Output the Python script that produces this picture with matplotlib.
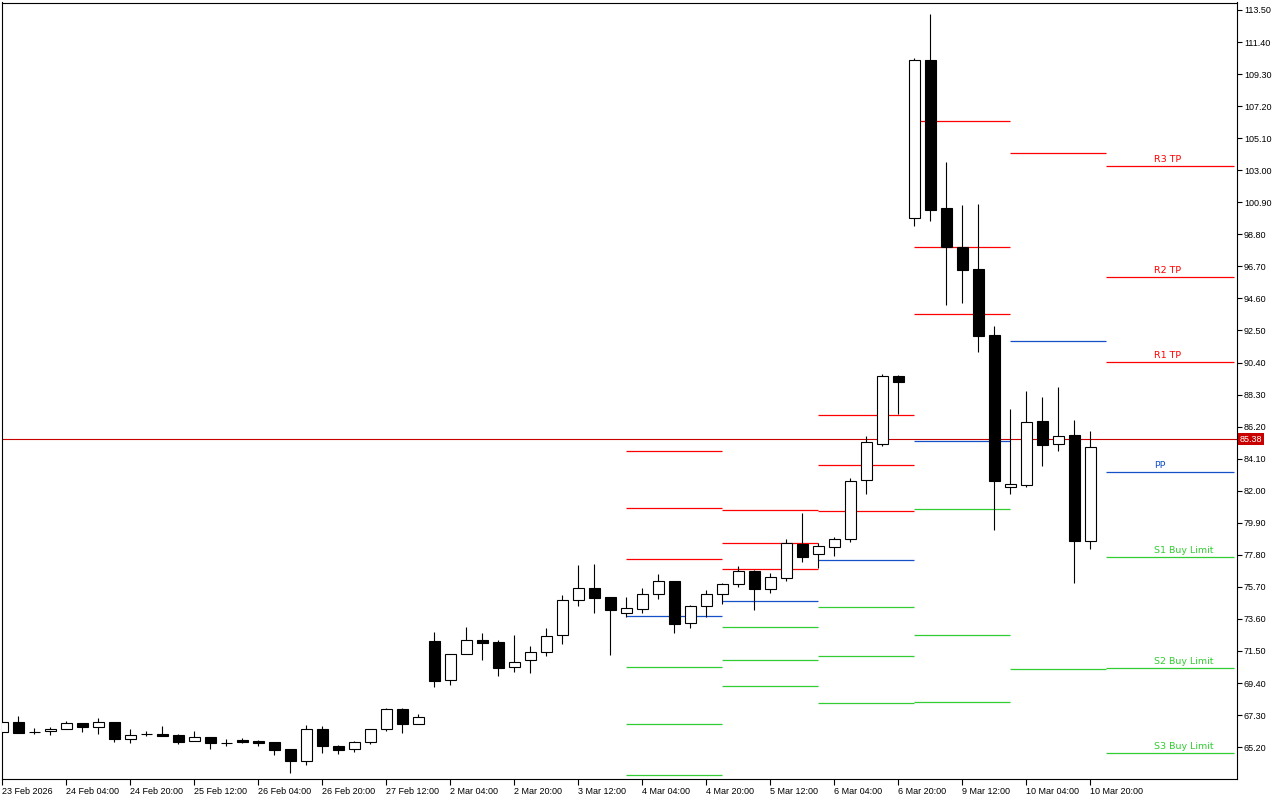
import matplotlib
matplotlib.use("Agg")
import matplotlib.pyplot as plt
import matplotlib.transforms as mtransforms
import numpy as np

# H4 bars, oldest first
opens = [66.17, 66.82, 66.17, 66.23, 66.36, 66.78, 66.50, 66.82, 65.75, 66.06,
         66.08, 65.97, 65.58, 65.86, 65.47, 65.66, 65.60, 65.53, 65.07, 64.31,
         66.38, 65.29, 65.05, 65.51, 66.36, 67.72, 66.69, 72.15, 69.57, 71.28,
         72.22, 72.09, 70.42, 70.88, 71.41, 72.52, 74.82, 75.60, 75.02, 73.97,
         74.27, 75.21, 76.08, 73.31, 74.46, 75.25, 75.90, 76.74, 75.58, 76.30,
         78.51, 77.83, 78.29, 78.81, 82.68, 85.08, 89.50, 99.85, 110.20, 100.51,
         97.95, 96.53, 92.20, 82.24, 82.39, 86.57, 85.04, 85.63, 78.72]
highs = [66.85, 67.24, 66.42, 66.49, 66.89, 66.80, 67.10, 66.82, 66.40, 66.25,
         66.60, 66.08, 66.23, 65.86, 65.73, 65.79, 65.64, 65.55, 65.07, 66.66,
         66.58, 65.34, 65.60, 66.36, 67.76, 67.76, 67.35, 72.74, 71.28, 73.07,
         72.67, 72.22, 72.54, 71.82, 73.00, 75.16, 77.13, 77.20, 75.02, 75.02,
         75.60, 76.54, 76.08, 74.51, 75.47, 75.93, 77.06, 76.80, 76.61, 78.83,
         80.54, 78.55, 78.96, 82.81, 85.56, 89.63, 89.58, 110.35, 113.24, 103.54,
         100.72, 100.79, 92.79, 87.35, 88.53, 88.14, 88.79, 86.61, 85.91]
lows = [66.15, 66.10, 66.09, 66.02, 66.36, 66.19, 66.08, 65.55, 65.49, 65.91,
        65.92, 65.42, 65.58, 65.07, 65.29, 65.47, 65.29, 64.68, 63.52, 64.02,
        64.83, 64.76, 64.90, 65.40, 66.25, 66.10, 66.69, 69.16, 69.29, 71.28,
        70.92, 69.88, 70.14, 70.07, 71.19, 71.97, 74.46, 74.00, 71.23, 73.74,
        74.00, 74.92, 72.69, 73.02, 73.74, 74.55, 75.69, 74.20, 75.32, 76.10,
        77.35, 76.95, 77.74, 78.66, 81.80, 84.95, 87.03, 99.37, 99.69, 94.19,
        94.28, 91.09, 79.42, 81.78, 82.22, 83.64, 84.62, 75.97, 78.20]
closes = [66.82, 66.14, 66.17, 66.38, 66.78, 66.50, 66.82, 65.75, 65.97, 66.06,
          65.94, 65.55, 65.86, 65.49, 65.47, 65.53, 65.47, 65.03, 64.31, 66.36,
          65.27, 65.03, 65.53, 66.36, 67.69, 66.69, 67.15, 69.55, 71.28, 72.22,
          72.04, 70.40, 70.75, 71.41, 72.46, 74.82, 75.60, 74.99, 74.20, 74.29,
          75.21, 76.06, 73.28, 74.42, 75.21, 75.87, 76.72, 75.58, 76.32, 78.55,
          77.63, 78.36, 78.81, 82.62, 85.17, 89.50, 89.14, 110.20, 100.41, 97.95,
          96.48, 92.16, 82.65, 82.44, 86.48, 85.01, 85.60, 78.72, 84.84]

xtick_labels = ["23 Feb 2026", "24 Feb 04:00", "24 Feb 20:00", "25 Feb 12:00",
                "26 Feb 04:00", "26 Feb 20:00", "27 Feb 12:00", "2 Mar 04:00",
                "2 Mar 20:00", "3 Mar 12:00", "4 Mar 04:00", "4 Mar 20:00",
                "5 Mar 12:00", "6 Mar 04:00", "6 Mar 20:00", "9 Mar 12:00",
                "10 Mar 04:00", "10 Mar 20:00"]
ytick_values = [65.20, 67.30, 69.40, 71.50, 73.60, 75.70, 77.80, 79.90, 82.00,
                84.10, 86.20, 88.30, 90.40, 92.50, 94.60, 96.70, 98.80, 100.90,
                103.00, 105.10, 107.20, 109.30, 111.40, 113.50]

# daily pivot blocks (bar index where each day starts / ends)
pivot_start = [39, 45, 51, 57, 63, 69]
pivot_end = [45, 51, 57, 63, 69, 77]
r3 = [84.63, 80.76, 86.99, 106.20, np.nan, 103.26]
r2 = [80.89, 78.60, 83.71, 97.94, np.nan, 95.98]
r1 = [77.55, 76.89, 80.69, 93.57, 104.10, 90.41]
pp = [73.81, 74.79, 77.48, 85.24, 91.78, 83.21]
s1 = [70.46, 73.09, 74.40, 80.82, 70.33, 77.63]
s2 = [66.73, 70.92, 71.19, 72.56, np.nan, 70.40]
s3 = [63.38, 69.22, 68.10, 68.17, np.nan, 64.79]
level_names = ["R3 TP", "R2 TP", "R1 TP", "PP", "S1 Buy Limit", "S2 Buy Limit", "S3 Buy Limit"]

last_price = 85.38

RED = "#ff0000"
BLUE = "#1450c8"
GREEN = "#32cd32"

fig = plt.figure(figsize=(12.8, 8), dpi=100)
ax = fig.add_axes([2 / 1280, 20.7 / 800, 1235 / 1280, 776.8 / 800])

o = np.array(opens)
h = np.array(highs)
l = np.array(lows)
c = np.array(closes)
x = np.arange(len(o))
up = c >= o

## candles: wicks first, bodies on top
ax.vlines(x, l, h, color="black", lw=0.8, zorder=3)
ax.bar(x, np.abs(c - o), bottom=np.minimum(o, c), width=0.66,
       color=np.where(up, "white", "black"), edgecolor="black", lw=0.8, zorder=4)

## pivot levels
levels = [r3, r2, r1, pp, s1, s2, s3]
colors = [RED, RED, RED, BLUE, GREEN, GREEN, GREEN]
for lv, col in zip(levels, colors):
    ax.hlines(lv, pivot_start, pivot_end, colors=col, lw=0.9, zorder=2)

# labels on the current (last) day
for lv, col, name in zip(levels, colors, level_names):
    ax.annotate(name, (pivot_start[-1] + 3, lv[-1]), xytext=(0, 1.5),
                textcoords="offset points", ha="left", va="bottom",
                color=col, fontsize=6.8, family="DejaVu Sans", zorder=5)

## bid line + price tag
ax.axhline(last_price, color="#c80000", lw=0.8, zorder=1)
trans = mtransforms.blended_transform_factory(ax.transAxes, ax.transData)
ax.text(1.0025, last_price, f"{last_price:.2f}", transform=trans, ha="left",
        va="center", color="white", fontsize=6.5, family="Liberation Sans",
        bbox=dict(boxstyle="square,pad=0.18", fc="#c80000", ec="none"), zorder=10,
        clip_on=False)

## axes
ax.set_xlim(-0.03, 77.16)
ax.set_ylim(63.09, 113.99)

ax.set_xticks(np.arange(len(xtick_labels)) * 4)
ax.set_xticklabels(xtick_labels, fontsize=6.5, family="Liberation Sans")
for lbl in ax.get_xticklabels():
    lbl.set_ha("left")
ax.tick_params(axis="x", direction="out", length=4, width=0.8, pad=1.5)

ax.yaxis.tick_right()
ax.set_yticks(ytick_values)
ax.set_yticklabels([f"{v:.2f}" for v in ytick_values], fontsize=6.5,
                   family="Liberation Sans")
ax.tick_params(axis="y", direction="out", length=3.5, width=0.8, pad=1.5)

for sp in ax.spines.values():
    sp.set_linewidth(0.8)
    sp.set_color("black")

fig.savefig("out.png", dpi=100)
